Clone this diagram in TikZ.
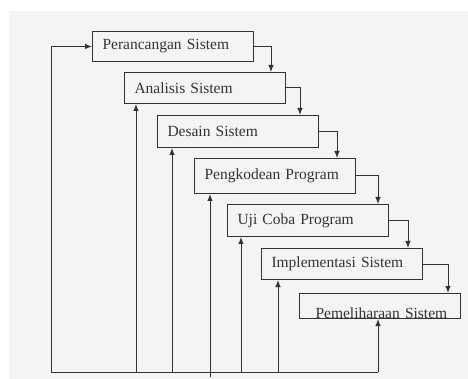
\documentclass[tikz,border=0pt]{standalone}
\usepackage{fontspec}
\setmainfont{Liberation Serif}
\usetikzlibrary{arrows.meta}
\definecolor{bg}{HTML}{F4F4F4}
\definecolor{ln}{HTML}{333333}
\begin{document}
\begin{tikzpicture}[x=1pt,y=-1pt,
  frame/.style={draw=ln, line width=1pt, anchor=north west, minimum width=161pt},
  box/.style={frame, inner xsep=10pt, text width=141pt, align=left,
    font=\fontsize{15.5}{17}\selectfont, text=ln},
  arr/.style={draw=ln, line width=1pt, -{Latex[length=7pt,width=5.5pt]}},
  ln/.style={draw=ln, line width=1pt}]
\useasboundingbox (0,0) rectangle (468,379);
\fill[white] (0,0) rectangle (468,379);
\fill[bg] (9,11) rectangle (468,379);
\node[box, minimum height=30pt] (b1) at (92,31) {Perancangan Sistem};
\node[box, minimum height=31pt] (b2) at (124,72) {Analisis Sistem};
\node[box, minimum height=32pt] (b3) at (157,115) {Desain Sistem};
\node[box, minimum height=35pt] (b4) at (194,158) {Pengkodean Program};
\node[box, minimum height=32pt] (b5) at (227,204) {Uji Coba Program};
\node[box, minimum height=31pt] (b6) at (261,248) {Implementasi Sistem};
\node[frame, minimum height=25pt, inner sep=0pt,
  path picture={\node[anchor=west, inner sep=0pt, text width=150pt, align=left,
    font=\fontsize{15.5}{17}\selectfont, text=ln]
    (t7) at ([xshift=10pt,yshift=-7pt]path picture bounding box.west) {Pemeliharaan Sistem};}] (b7) at (299,293) {};
% forward connectors
\draw[arr] (b1.east) -| ([xshift=147pt]b2.north west);
\draw[arr] (b2.east) -| ([xshift=143pt]b3.north west);
\draw[arr] (b3.east) -| ([xshift=143pt]b4.north west);
\draw[arr] (b4.east) -| ([xshift=151pt]b5.north west);
\draw[arr] (b5.east) -| ([xshift=147pt]b6.north west);
\draw[arr] (b6.east) -| ([xshift=149pt]b7.north west);
% feedback
\coordinate (bl) at (51,372);
\coordinate (f2) at ([xshift=12pt]b2.south west);
\coordinate (f3) at ([xshift=15pt]b3.south west);
\coordinate (f4) at ([xshift=16pt]b4.south west);
\coordinate (f5) at ([xshift=14pt]b5.south west);
\coordinate (f6) at ([xshift=17pt]b6.south west);
\coordinate (f7) at ([xshift=79pt]b7.south west);
\coordinate (tick) at (0,377);
\draw[arr] (bl) |- (b1.west);
\draw[ln] (bl) -- (f7 |- bl);
\draw[arr] (f2 |- bl) -- (f2);
\draw[arr] (f3 |- bl) -- (f3);
\draw[arr] (f4 |- tick) -- (f4);
\draw[arr] (f5 |- bl) -- (f5);
\draw[arr] (f6 |- bl) -- (f6);
\draw[arr] (f7 |- bl) -- (f7);
\end{tikzpicture}
\end{document}
